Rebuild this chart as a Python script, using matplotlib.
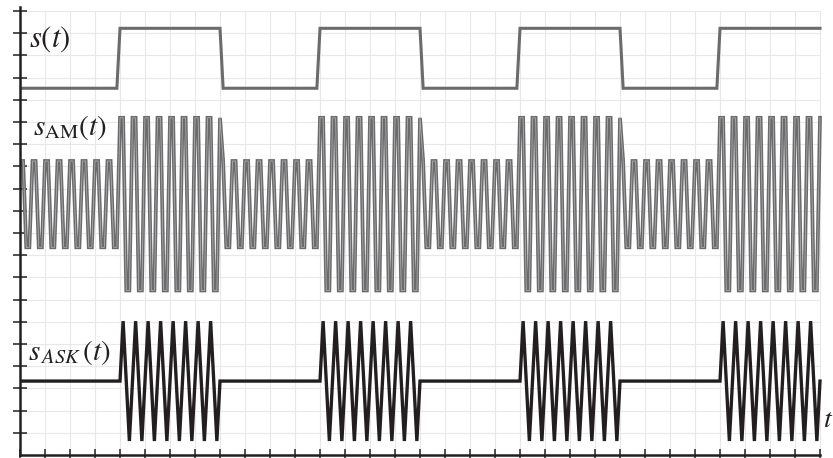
import numpy as np
import matplotlib
matplotlib.use('Agg')
import matplotlib.pyplot as plt

plt.rcParams['mathtext.fontset'] = 'stix'

# bit sequence, each bit lasts 4 ticks (32 samples of 1/8 tick)
bits = [0, 1, 0, 1, 0, 1, 0, 1]
samples_per_bit = 32
dt = 0.125

# one carrier cycle = 4 samples
ask_cycle = [0, 1, 0, -1]
am_cycle = [0.707, 0.707, -0.707, -0.707]

# levels (in tick units of the y axis)
s_low, s_step = 16.52, 2.70
am_mid, am_scale = 11.30, 2.75
ask_mid, ask_scale = 3.33, 2.70

n = len(bits) * samples_per_bit + 1
t = np.arange(n) * dt
s = np.zeros(n)
for b, v in enumerate(bits):
    if v:
        s[b * samples_per_bit: (b + 1) * samples_per_bit + 1] = 1

ask_c = np.tile(ask_cycle, n // 4 + 1)[:n]
am_c = np.tile(am_cycle, n // 4 + 1)[:n]

y_s = s_low + s_step * s
y_am = am_mid + am_scale * (1 + s) * am_c
y_ask = ask_mid + ask_scale * s * ask_c

ink = '#231f20'
grey = '#6b6b6d'

fig = plt.figure(figsize=(8.33, 4.58), dpi=100)
ax = fig.add_axes([20 / 833, 3 / 458, 813 / 833, 455 / 458])
ax.set_xlim(0, 813 / 25)
ax.set_ylim(0, 455 / 22.2)

# light grid, only inside the drawing area
xt = np.arange(0, 33)
yt = np.arange(1, 21)
ax.vlines(xt[1:], 0, 20, color='#e8e8e8', lw=0.8, zorder=0)
ax.hlines(yt, 0, 32, color='#e8e8e8', lw=0.8, zorder=0)

ax.plot(t, y_s, color=grey, lw=2.2, solid_joinstyle='miter')
ax.plot(t, y_am, color=grey, lw=2.7, solid_joinstyle='miter')
ax.plot(t, y_am, color='#b8b8b8', lw=0.5, solid_joinstyle='miter')
ax.plot(t, y_ask, color=ink, lw=2.4, solid_joinstyle='miter')

for side in ['top', 'right']:
    ax.spines[side].set_visible(False)
ax.spines['left'].set_bounds(0, 20.17)
ax.spines['bottom'].set_bounds(0, 32)
for side in ['left', 'bottom']:
    ax.spines[side].set_color(ink)
    ax.spines[side].set_linewidth(1.8)

ax.set_xticks(xt)
ax.set_yticks(yt)
ax.tick_params(axis='y', direction='inout', length=10, width=1.1, color=ink,
               labelleft=False)
ax.tick_params(axis='x', direction='inout', length=8, width=1.1, color=ink,
               labelbottom=False)

ax.text(0.36, 18.38, r'$s(t)$', fontsize=22, color=ink, va='baseline')
ax.text(0.53, 14.41, r'$s_{\mathrm{AM}}(t)$', fontsize=21, color=ink, va='baseline')
ax.text(0.33, 4.28, r'$s_{\,ASK}\,(t)$', fontsize=21, color=ink, va='baseline')
ax.text(32.14, 1.25, r'$t$', fontsize=20, color=ink, va='baseline')

fig.savefig('out.png', dpi=100)
